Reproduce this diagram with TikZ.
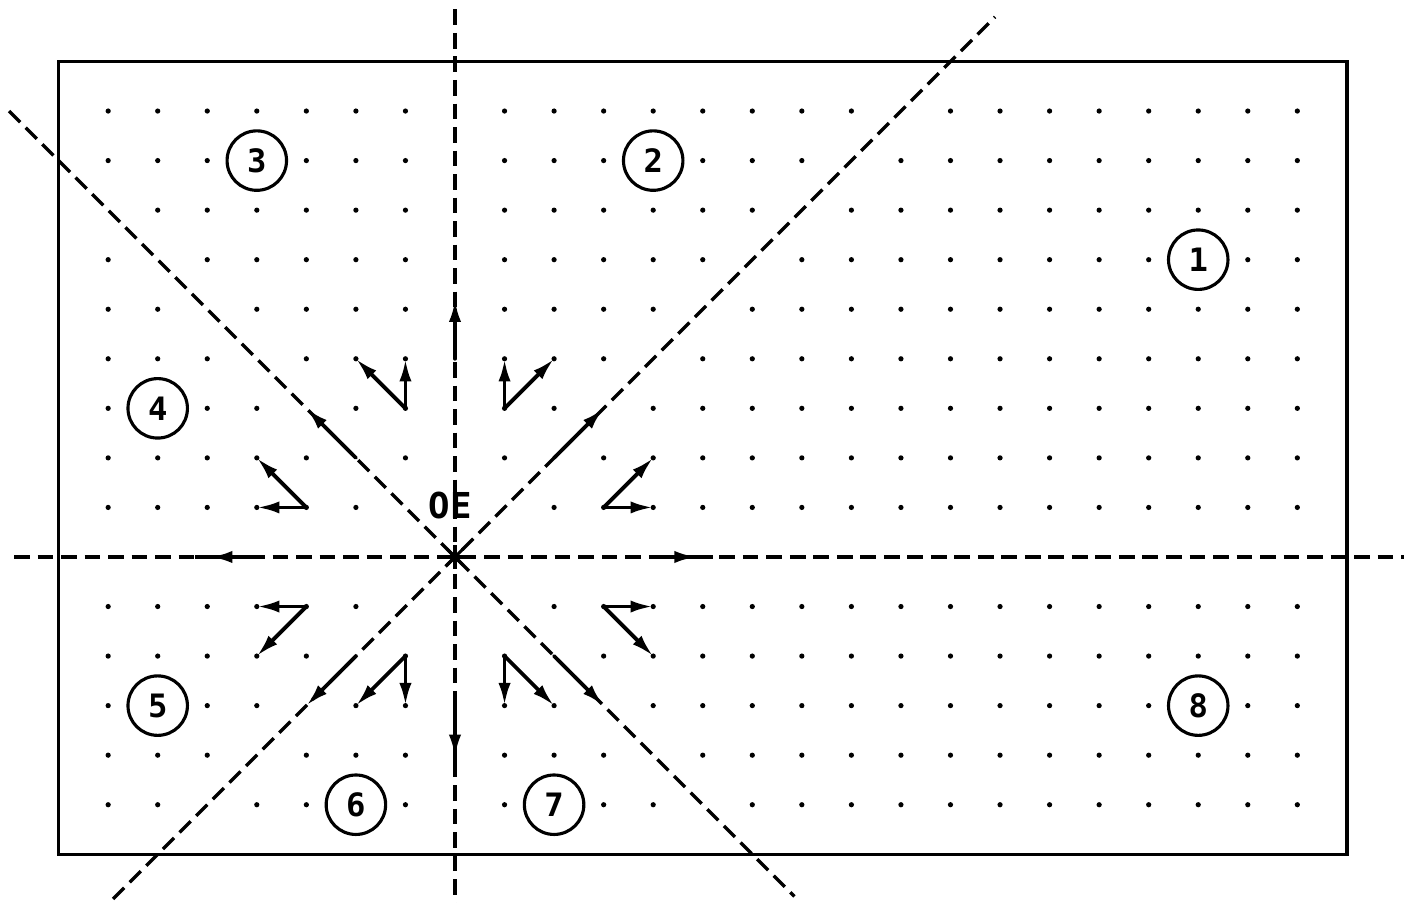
\documentclass[tikz,border=0pt]{standalone}
\usepackage{fontspec}
\newfontfamily\plotfont{DejaVu Sans Mono}
\usetikzlibrary{arrows.meta,decorations.markings}

\begin{document}
\begin{tikzpicture}[
        frame/.style={line width=2pt},
        axis/.style={line width=1.9pt, dash pattern=on 9pt off 4.5pt},
        vec/.style={line width=2.2pt, line cap=round, -{Latex[length=13pt,width=7pt]}},
        midvec/.style={line width=2.2pt, postaction={decorate},
            decoration={markings, mark=at position #1 with {\arrow{Latex[length=13pt,width=7pt]}}}},
        zone/.style={circle, draw, line width=1.8pt, fill=white, minimum size=1.2cm,
            inner sep=0pt, font=\plotfont\bfseries\fontsize{18.5}{20}\selectfont},
        lbl/.style={inner sep=0pt, font=\plotfont\bfseries\fontsize{20.5}{22}\selectfont}
    ]
        % Поле рисунка
        \useasboundingbox (-9.183,-6.983) rectangle (19.173,11.241);

        % Рамка
        \draw[frame] (-8,-6) rectangle (18,10);

        % Точечная сетка (без точек на осях и диагоналях)
        \foreach \i in {-7,...,17}{
            \foreach \j in {-5,...,9}{
                \pgfmathtruncatemacro{\nodot}{(\i==0)||(\j==0)||(abs(\i)==abs(\j))}
                \ifnum\nodot=0 \fill (\i,\j) circle (1.5pt); \fi
            }
        }

        % Концы осей
        \coordinate (xl) at (-8.9,0);      \coordinate (xr) at (19.15,0);
        \coordinate (yt) at (0,11.05);     \coordinate (yb) at (0,-6.98);
        \coordinate (dsw) at (-6.9,-6.9);  \coordinate (dne) at (10.9,10.9);
        \coordinate (dnw) at (-9,9);       \coordinate (dse) at (6.85,-6.85);

        % Оси (штриховые)
        \draw[axis] (xl) -- (xr);
        \draw[axis] (yt) -- (yb);
        \draw[axis] (dsw) -- (dne);
        \draw[axis] (dnw) -- (dse);

        % Начало координат (звёздочка)
        \coordinate (O) at (0,0);
        \foreach \a in {0,45,90,135}
            \draw[line width=1.8pt] (O) ++(\a:0.24) -- ++(\a:-0.48);
        \node[lbl] (oe) at (-0.1,1.03) {OE};

        % Стрелки вдоль осей
        \coordinate (up0) at (0,4);       \coordinate (up1) at (0,5.2);
        \coordinate (dn0) at (0,-2.7);    \coordinate (dn1) at (0,-4.3);
        \coordinate (lf0) at (-4,0);      \coordinate (lf1) at (-5.25,0);
        \coordinate (rt0) at (4.15,0);    \coordinate (rt1) at (5.2,0);
        \draw[vec] (up0) -- (up1);
        \draw[midvec=0.84] (dn0) -- (dn1);
        \draw[midvec=0.76] (lf0) -- (lf1);
        \draw[midvec=0.7] (rt0) -- (rt1);

        % Стрелки вдоль диагоналей
        \coordinate (ne0) at (2,2);   \coordinate (ne1) at (3,3);
        \coordinate (nw0) at (-2,2);  \coordinate (nw1) at (-3,3);
        \coordinate (sw0) at (-2,-2); \coordinate (sw1) at (-3,-3);
        \coordinate (se0) at (2,-2);  \coordinate (se1) at (3,-3);
        \draw[vec] (ne0) -- (ne1);
        \draw[vec] (nw0) -- (nw1);
        \draw[vec] (sw0) -- (sw1);
        \draw[vec] (se0) -- (se1);

        % Пары стрелок (вершина и два конца)
        % сверху
        \coordinate (p1) at (-1,3);  \coordinate (p1a) at (-2,4);  \coordinate (p1b) at (-1,4);
        \coordinate (p2) at (1,3);   \coordinate (p2a) at (1,4);   \coordinate (p2b) at (2,4);
        \coordinate (p3) at (-3,1);  \coordinate (p3a) at (-4,1);  \coordinate (p3b) at (-4,2);
        \coordinate (p4) at (3,1);   \coordinate (p4a) at (4,1);   \coordinate (p4b) at (4,2);
        % снизу
        \coordinate (p5) at (-3,-1); \coordinate (p5a) at (-4,-1); \coordinate (p5b) at (-4,-2);
        \coordinate (p6) at (-1,-2); \coordinate (p6a) at (-2,-3); \coordinate (p6b) at (-1,-3);
        \coordinate (p7) at (1,-2);  \coordinate (p7a) at (1,-3);  \coordinate (p7b) at (2,-3);
        \coordinate (p8) at (3,-1);  \coordinate (p8a) at (4,-1);  \coordinate (p8b) at (4,-2);
        \foreach \p in {p1,p2,p3,p4,p5,p6,p7,p8}{
            \draw[vec] (\p) -- (\p a);
            \draw[vec] (\p) -- (\p b);
        }

        % Номера областей
        \node[zone] (z1) at (15,6) {1};
        \node[zone] (z2) at (4,8) {2};
        \node[zone] (z3) at (-4,8) {3};
        \node[zone] (z4) at (-6,3) {4};
        \node[zone] (z5) at (-6,-3) {5};
        \node[zone] (z6) at (-2,-5) {6};
        \node[zone] (z7) at (2,-5) {7};
        \node[zone] (z8) at (15,-3) {8};
    \end{tikzpicture}
\end{document}
